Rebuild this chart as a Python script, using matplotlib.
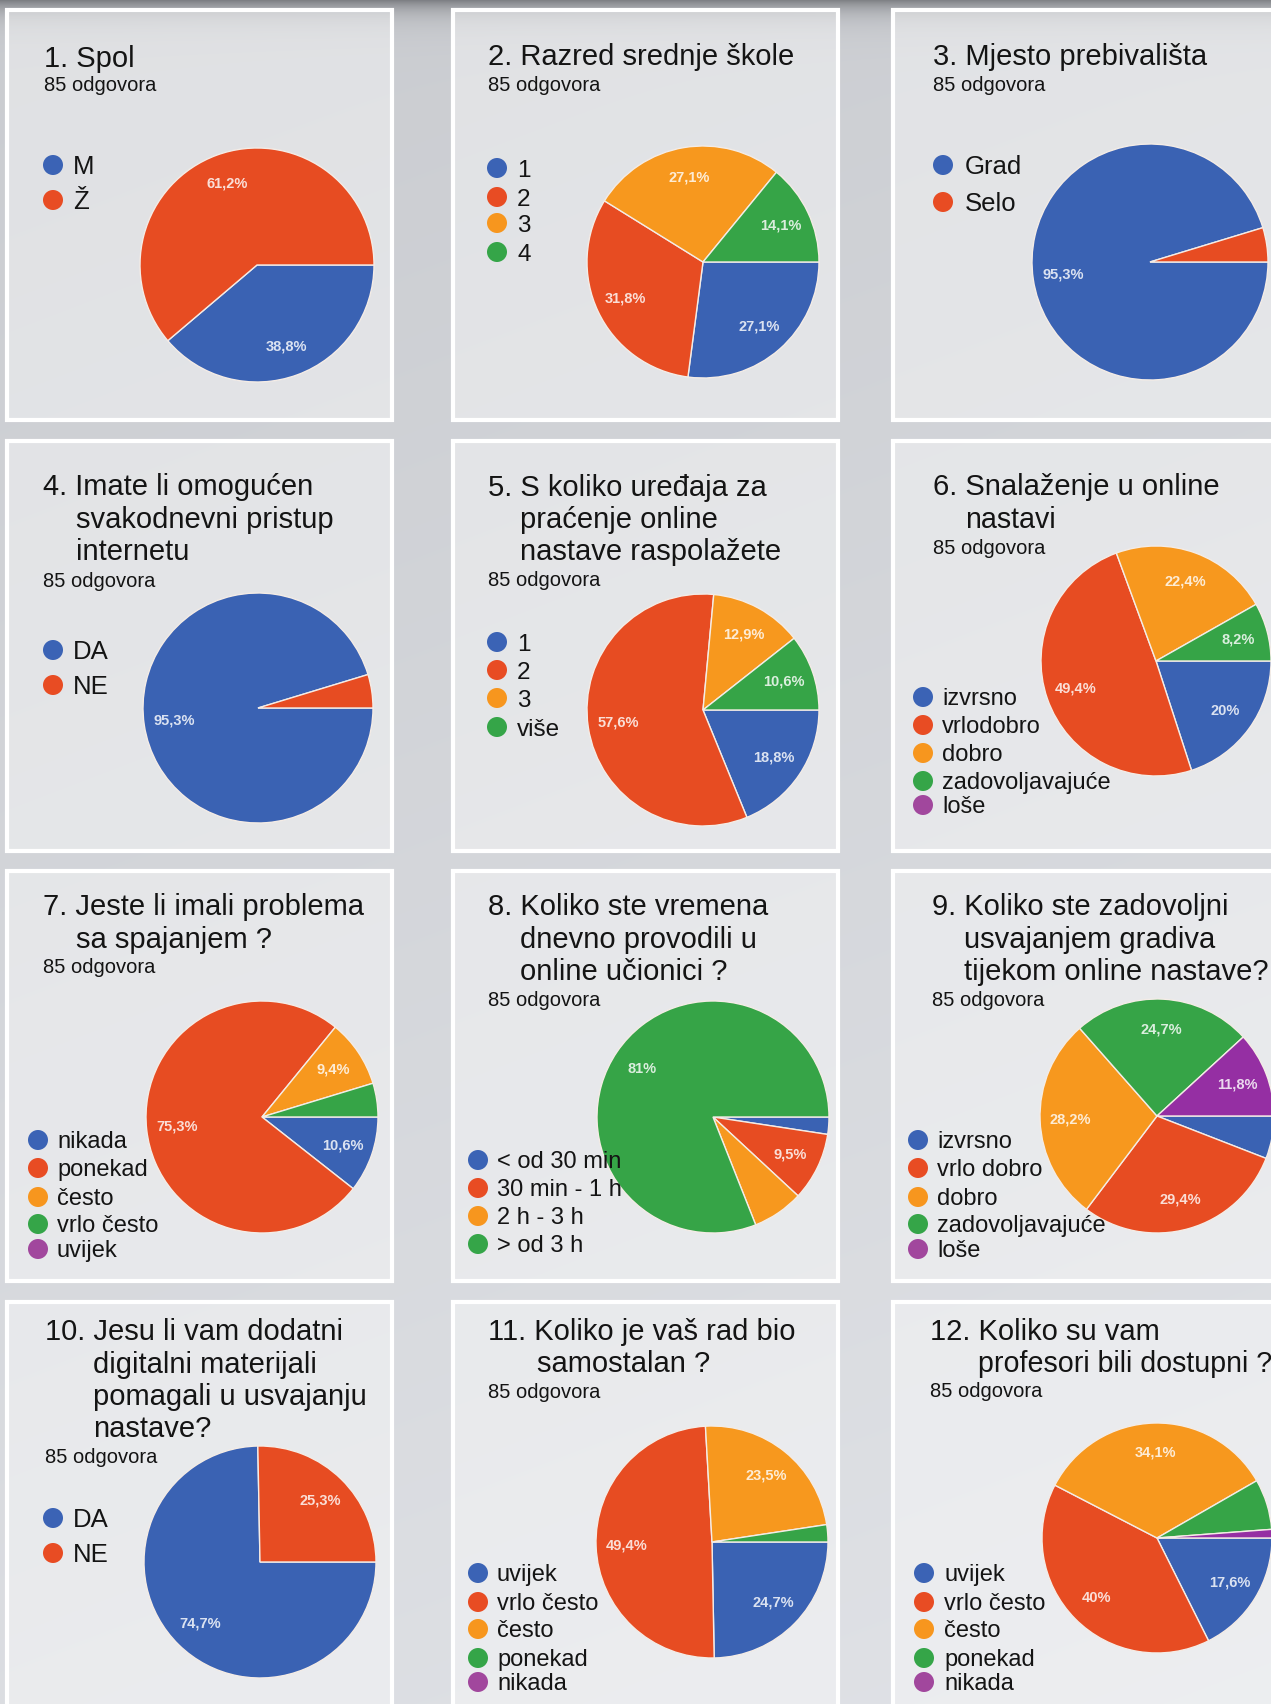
import numpy as np
import matplotlib
matplotlib.use("Agg")
import matplotlib.pyplot as plt
from matplotlib.patches import Rectangle, Circle

# ---------------- data ----------------
q1_title = ["1. Spol"]
q1_cats = ["M", "Ž"]
q1_vals = [38.8, 61.2]

q2_title = ["2. Razred srednje škole"]
q2_cats = ["1", "2", "3", "4"]
q2_vals = [27.1, 31.8, 27.1, 14.1]

q3_title = ["3. Mjesto prebivališta"]
q3_cats = ["Grad", "Selo"]
q3_vals = [95.3, 4.7]

q4_title = ["4. Imate li omogućen", "svakodnevni pristup", "internetu"]
q4_cats = ["DA", "NE"]
q4_vals = [95.3, 4.7]

q5_title = ["5. S koliko uređaja za", "praćenje online", "nastave raspolažete"]
q5_cats = ["1", "2", "3", "više"]
q5_vals = [18.8, 57.6, 12.9, 10.6]

q6_title = ["6. Snalaženje u online", "nastavi"]
q6_cats = ["izvrsno", "vrlodobro", "dobro", "zadovoljavajuće", "loše"]
q6_vals = [20.0, 49.4, 22.4, 8.2, 0.0]

q7_title = ["7. Jeste li imali problema", "sa spajanjem ?"]
q7_cats = ["nikada", "ponekad", "često", "vrlo često", "uvijek"]
q7_vals = [10.6, 75.3, 9.4, 4.7, 0.0]

q8_title = ["8. Koliko ste vremena", "dnevno provodili u", "online učionici ?"]
q8_cats = ["< od 30 min", "30 min - 1 h", "2 h - 3 h", "> od 3 h"]
q8_vals = [2.4, 9.5, 7.1, 81.0]

q9_title = ["9. Koliko ste zadovoljni", "usvajanjem gradiva", "tijekom online nastave?"]
q9_cats = ["izvrsno", "vrlo dobro", "dobro", "zadovoljavajuće", "loše"]
q9_vals = [5.9, 29.4, 28.2, 24.7, 11.8]

q10_title = ["10. Jesu li vam dodatni", "digitalni materijali", "pomagali u usvajanju", "nastave?"]
q10_cats = ["DA", "NE"]
q10_vals = [74.7, 25.3]

q11_title = ["11. Koliko je vaš rad bio", "samostalan ?"]
q11_cats = ["uvijek", "vrlo često", "često", "ponekad", "nikada"]
q11_vals = [24.7, 49.4, 23.5, 2.4, 0.0]

q12_title = ["12. Koliko su vam", "profesori bili dostupni ?"]
q12_cats = ["uvijek", "vrlo često", "često", "ponekad", "nikada"]
q12_vals = [17.6, 40.0, 34.1, 7.1, 1.2]

subtitle = "85 odgovora"

# ---------------- style ----------------
PIE_COLORS = ["#3a62b3", "#e74c22", "#f7981e", "#36a447", "#952fa3"]
DOT_COLORS = ["#3b63b5", "#e84c23", "#f7961e", "#35a548", "#a1479d"]
FONT = ["Liberation Sans", "DejaVu Sans"]
TXT = "#141414"

W, H = 1271, 1704
fig = plt.figure(figsize=(W / 100, H / 100), dpi=100)
bg = fig.add_axes([0, 0, 1, 1])
bg.axis("off")

# soft background (blurred-photo look)
yy = np.arange(H)[:, None].astype(float)
xx = np.arange(W)[None, :].astype(float)
lum = 0.79 + 0.07 * (yy / H) - 0.30 * np.exp(-yy / 12.0) + 0.02 * (xx / W)
img = np.dstack([lum, lum + 0.008, lum + 0.025]).clip(0, 1)
bg.imshow(img, extent=(0, W, H, 0), aspect="auto", zorder=0)
bg.set_xlim(0, W)
bg.set_ylim(H, 0)

col_x = [7, 453, 893]
row_y = [10, 441, 871, 1302]
PW, PH = 385, 410

for r in range(4):
    for c in range(3):
        bg.add_patch(Rectangle((col_x[c], row_y[r]), PW, PH,
                               facecolor=(1, 1, 1, 0.42), edgecolor="white",
                               lw=3.0, zorder=1))

# layout per panel: title x, title baselines, continuation indent x, subtitle baseline,
# legend dot x, legend text x, legend y's, legend font size, pie (cx, cy, r)
panels = [
    (q1_title, q1_cats, q1_vals, 44, [67], 44, 91, 53, 73, [165, 200], 18.5, (257, 265, 117)),
    (q2_title, q2_cats, q2_vals, 488, [65], 488, 91, 497, 517, [168, 197, 223, 252], 17.5, (703, 262, 116)),
    (q3_title, q3_cats, q3_vals, 933, [65], 933, 91, 943, 965, [165, 202], 18.5, (1150, 262, 118)),
    (q4_title, q4_cats, q4_vals, 43, [495, 528, 560], 76, 587, 53, 73, [650, 685], 18.5, (258, 708, 115)),
    (q5_title, q5_cats, q5_vals, 488, [496, 528, 560], 520, 586, 497, 517, [642, 670, 698, 727], 17.5, (703, 710, 116)),
    (q6_title, q6_cats, q6_vals, 933, [495, 528], 965, 554, 923, 942, [697, 725, 753, 781, 805], 17, (1156, 661, 115)),
    (q7_title, q7_cats, q7_vals, 43, [915, 948], 76, 973, 38, 57, [1140, 1168, 1197, 1224, 1249], 17, (262, 1117, 116)),
    (q8_title, q8_cats, q8_vals, 488, [915, 948, 980], 520, 1006, 478, 497, [1160, 1188, 1216, 1244], 17, (713, 1117, 116)),
    (q9_title, q9_cats, q9_vals, 932, [915, 948, 980], 964, 1006, 918, 937, [1140, 1168, 1197, 1224, 1249], 17, (1157, 1116, 117)),
    (q10_title, q10_cats, q10_vals, 45, [1340, 1373, 1405, 1437], 93, 1463, 53, 73, [1518, 1553], 18.5, (260, 1562, 116)),
    (q11_title, q11_cats, q11_vals, 488, [1340, 1372], 537, 1398, 478, 497, [1573, 1602, 1629, 1658, 1682], 17, (712, 1542, 116)),
    (q12_title, q12_cats, q12_vals, 930, [1340, 1372], 978, 1397, 924, 944, [1573, 1602, 1629, 1658, 1682], 17, (1157, 1538, 115)),
]


def fmt(v):
    s = f"{v:.1f}".rstrip("0").rstrip(".")
    return s.replace(".", ",") + "%"


# pies first
for (title, cats, vals, tx, tys, cx_ind, sub_y, dx, ltx, lys, lfs, pie) in panels:
    pcx, pcy, pr = pie
    pad = 1.06
    rect = [(pcx - pr * pad) / W, 1 - (pcy + pr * pad) / H, 2 * pr * pad / W, 2 * pr * pad / H]
    ax = fig.add_axes(rect)
    use = [(v, PIE_COLORS[i]) for i, v in enumerate(vals) if v > 0]
    pv = [u[0] for u in use]
    pc = [u[1] for u in use]
    wedges, texts, autotexts = ax.pie(
        pv, colors=pc, startangle=0, counterclock=False, radius=1,
        autopct=lambda p: "", pctdistance=0.74,
        wedgeprops=dict(edgecolor="#f4ece6", linewidth=1.0))
    for t in texts:
        t.remove()
    for v, at in zip(pv, autotexts):
        if v < 8:
            at.remove()
            continue
        at.set_text(fmt(v))
        at.set_fontsize(10.5)
        at.set_fontweight("bold")
        at.set_family(FONT)
        at.set_color((1, 1, 1, 0.82))
    ax.set_xlim(-pad, pad)
    ax.set_ylim(-pad, pad)
    ax.axis("off")

# overlay for texts and legend (drawn above the pies)
ov = fig.add_axes([0, 0, 1, 1])
ov.set_xlim(0, W)
ov.set_ylim(H, 0)
ov.axis("off")
ov.patch.set_alpha(0)

for (title, cats, vals, tx, tys, cx_ind, sub_y, dx, ltx, lys, lfs, pie) in panels:
    for i, (line, ty) in enumerate(zip(title, tys)):
        fs = 21 if (cx_ind + 10.45 * 21 * 100 / 72 < W - 2 or i == 0) else 20.6
        ov.text(tx if i == 0 else cx_ind, ty, line, fontsize=fs, family=FONT,
                color=TXT, ha="left", va="baseline", zorder=5)
    ov.text(tx, sub_y, subtitle, fontsize=14.5, family=FONT, color=TXT,
            ha="left", va="baseline", zorder=5)
    em = lfs * 100 / 72
    for i, (cat, ly) in enumerate(zip(cats, lys)):
        ov.add_patch(Circle((dx, ly), 10, facecolor=DOT_COLORS[i], edgecolor="none", zorder=5))
        ov.text(ltx, ly + 0.716 * em / 2, cat, fontsize=lfs, family=FONT, color=TXT,
                ha="left", va="baseline", zorder=5)

fig.savefig("out.png", dpi=100)
